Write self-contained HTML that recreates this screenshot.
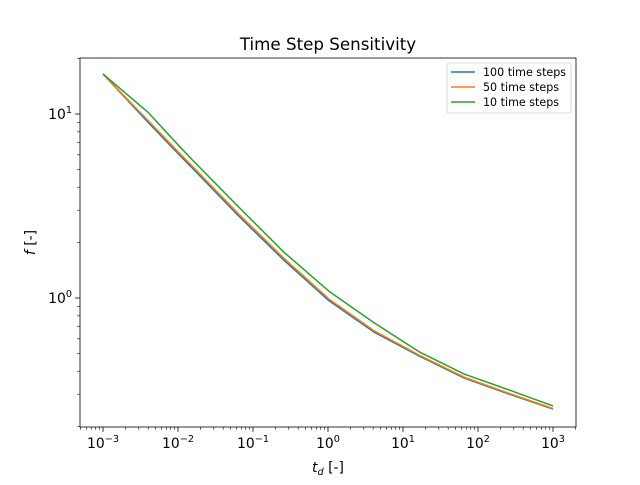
<!DOCTYPE html>
<html><head><meta charset="utf-8"><style>
body{margin:0;background:#fff;}
svg text{font-family:"DejaVu Sans","Liberation Sans",sans-serif;fill:#000;}
</style></head><body>
<svg id="chart" width="640" height="480" viewBox="0 0 640 480" xmlns="http://www.w3.org/2000/svg"></svg>
<script>
const xValues=[0.001,0.004,0.01,0.016,0.064,0.256,1.024,4.096,16.38,65.5,262,1000];
const series100=[16.5,9.0,6.1,5.02,2.8,1.61,0.969,0.653,0.484,0.367,0.30,0.249];
const series50=[16.5,9.2,6.25,5.14,2.87,1.65,0.99,0.665,0.49,0.371,0.303,0.251];
const series10=[16.5,10.2,6.8,5.56,3.13,1.78,1.09,0.735,0.51,0.386,0.316,0.259];
const seriesNames=["100 time steps","50 time steps","10 time steps"];
const seriesColors=["#1f77b4","#ff7f0e","#2ca02c"];
const xTickVals=[-3,-2,-1,0,1,2,3];
const yTickVals=[0,1];

const svg=document.getElementById('chart');
const NS='http://www.w3.org/2000/svg';
const L=80,R=576,T=58,B=427;
const xmin=-3-23/75,xmax=3+23/75;
const ymin=-129/184,ymax=1+56/184;
function xs(v){return L+(Math.log10(v)-xmin)/(xmax-xmin)*(R-L);}
function ys(v){return B-(Math.log10(v)-ymin)/(ymax-ymin)*(B-T);}
function mk(tag,attrs,parent){const e=document.createElementNS(NS,tag);for(const k in attrs)e.setAttribute(k,attrs[k]);(parent||svg).appendChild(e);return e;}

const gx=mk('g',{});


xTickVals.forEach(p=>{
  const x=xs(Math.pow(10,p));
  mk('line',{x1:x,x2:x,y1:B,y2:B+4.9,stroke:'#000','stroke-width':0.8},gx);
  const t=mk('text',{x:x,y:B+21,'text-anchor':'middle','font-size':13.9},gx);
  
  
  t.innerHTML='10<tspan dy="-6" font-size="9.7">'+(p<0?'−'+(-p):p)+'</tspan>';
  for(let m=2;m<10;m++){const v=m*Math.pow(10,p);const xm=xs(v);if(xm>L&&xm<R)mk('line',{x1:xm,x2:xm,y1:B,y2:B+2.8,stroke:'#000','stroke-width':0.6},gx);}
});
for(let m=2;m<10;m++){const xm=xs(m*1e-4);if(xm>L)mk('line',{x1:xm,x2:xm,y1:B,y2:B+2.8,stroke:'#000','stroke-width':0.6},gx);}
const gy=mk('g',{});


yTickVals.forEach(p=>{
  const y=ys(Math.pow(10,p));
  mk('line',{x1:L,x2:L-4.9,y1:y,y2:y,stroke:'#000','stroke-width':0.8},gy);
  const t=mk('text',{x:L-8,y:y+5,'text-anchor':'end','font-size':13.9},gy);
  
  
  t.innerHTML='10<tspan dy="-6" font-size="9.7">'+p+'</tspan>';
});
[-1,0,1].forEach(p=>{for(let m=2;m<10;m++){const y=ys(m*Math.pow(10,p));if(y>T&&y<B)mk('line',{x1:L,x2:L-2.8,y1:y,y2:y,stroke:'#000','stroke-width':0.6},gy);}});

const allSeries=[series100,series50,series10];
allSeries.forEach((s,i)=>{
  const pl=mk('polyline',{points:s.map((v,j)=>xs(xValues[j])+','+ys(v)).join(' '),fill:'none',stroke:seriesColors[i],'stroke-width':1.5,'stroke-linejoin':'round'});
  
  
});
const frame=mk('rect',{x:L,y:T,width:R-L,height:B-T,fill:'none',stroke:'#000','stroke-width':0.8});



const title=mk('text',{x:(L+R)/2,y:T-8,'text-anchor':'middle','font-size':16.7});
title.textContent='Time Step Sensitivity';


const xl=mk('text',{x:(L+R)/2,y:472,'text-anchor':'middle','font-size':13.9});
xl.innerHTML='<tspan font-style="italic">t</tspan><tspan font-style="italic" font-size="9.7" dy="3">d</tspan><tspan dy="-3"> [-]</tspan>';


const yl=mk('text',{x:0,y:0,'text-anchor':'middle','font-size':13.9,transform:'translate(35,'+((T+B)/2)+') rotate(-90)'});
yl.innerHTML='<tspan font-style="italic">f</tspan> [-]';



const lg=mk('g',{});


mk('rect',{x:447,y:63,width:124,height:50,rx:2,fill:'#fff',stroke:'#ccc','stroke-width':0.8},lg);
seriesNames.forEach((n,i)=>{
  const y=72+i*15;
  const e=mk('g',{},lg);
  
  
  mk('line',{x1:451,x2:475,y1:y,y2:y,stroke:seriesColors[i],'stroke-width':1.5},e);
  const t=mk('text',{x:483,y:y+4,'font-size':11.1},e);
  t.textContent=n;
});
</script>
</body></html>
